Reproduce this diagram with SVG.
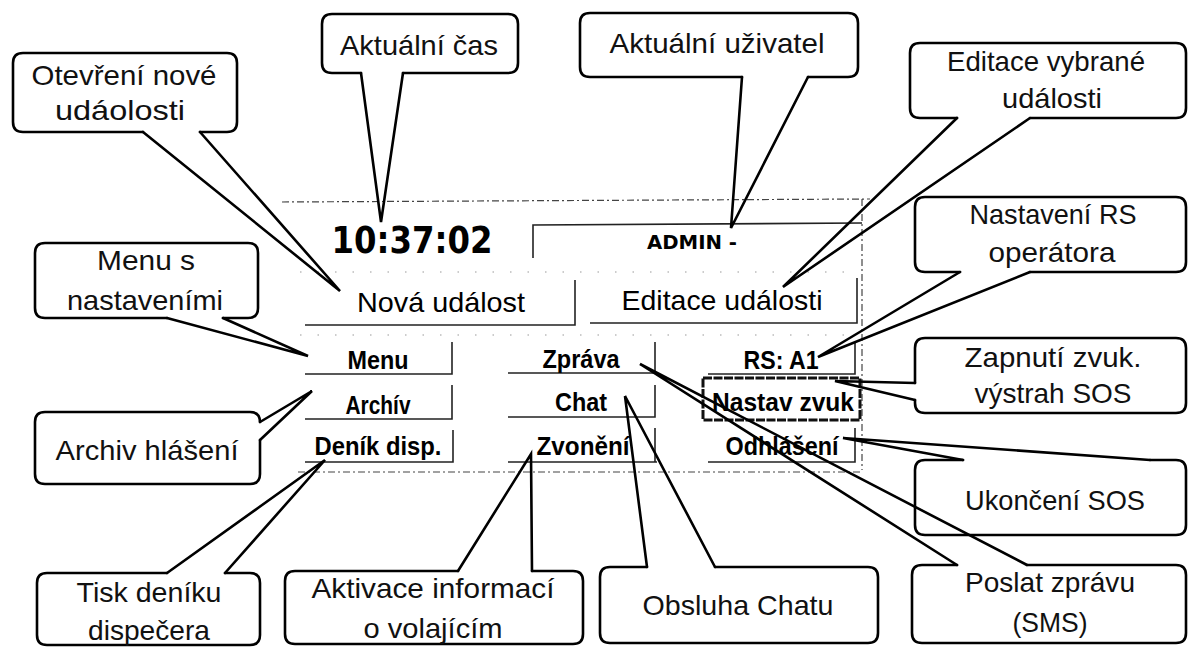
<svg xmlns="http://www.w3.org/2000/svg" width="1188" height="647" viewBox="0 0 1188 647">
<style>
.co{fill:none;stroke:#000;stroke-width:2.6;stroke-linejoin:round;stroke-linecap:round}
.wedge{fill:none;stroke:#000;stroke-width:2.6;stroke-linejoin:miter;stroke-linecap:round}
.ct{font-family:"Liberation Sans",Arial,sans-serif;font-size:28px;fill:#111;text-anchor:middle}
.bt{font-family:"Liberation Sans",Arial,sans-serif;font-weight:bold;font-size:25px;fill:#000;text-anchor:middle}
.big{font-family:"Liberation Sans",Arial,sans-serif;font-size:28px;fill:#000;text-anchor:middle}
.edge{stroke:#222;stroke-width:1.6;fill:none}
.dash{stroke:#444;stroke-width:1.2;fill:none;stroke-dasharray:7 3 2 3}
.dot{stroke:#999;stroke-width:1.2;fill:none;stroke-dasharray:1.5 16}
</style>
<rect width="1188" height="647" fill="#fff"/>

<g id="screen">
  <path class="dash" d="M282,202 L870,199"/>
  <path class="dash" d="M862,199 V470"/>
  <path class="dash" d="M298,472 H862"/>
  <path class="dot" d="M300,272 H860"/>
  <path class="dot" d="M300,335 H860"/>
</g>

<g id="clock">
  <text x="412" y="253" font-family="'DejaVu Sans',Verdana,sans-serif" font-weight="bold" font-size="38" text-anchor="middle" textLength="161" lengthAdjust="spacingAndGlyphs">10:37:02</text>
</g>

<g id="admin">
  <path class="edge" d="M533,258 V225 L862,223"/>
  <text x="692" y="249" font-family="'DejaVu Sans',Verdana,sans-serif" font-weight="bold" font-size="20" text-anchor="middle" textLength="90" lengthAdjust="spacingAndGlyphs">ADMIN -</text>
</g>

<g id="btn-nova">
  <path class="edge" d="M305,325 H575 V280"/>
  <text class="big" x="441" y="312" textLength="168" lengthAdjust="spacingAndGlyphs">Nová událost</text>
</g>
<g id="btn-editace">
  <path class="edge" d="M590,323 H857 V278"/>
  <text class="big" x="722" y="310" textLength="201" lengthAdjust="spacingAndGlyphs">Editace události</text>
</g>

<g id="btn-menu">
  <path class="edge" d="M305,374 H452 V342"/>
  <text class="bt" x="378" y="369" textLength="61" lengthAdjust="spacingAndGlyphs">Menu</text>
</g>
<g id="btn-zprava">
  <path class="edge" d="M508,373 H655 V342"/>
  <text class="bt" x="581" y="368" textLength="77" lengthAdjust="spacingAndGlyphs">Zpráva</text>
</g>
<g id="btn-rs">
  <path class="edge" d="M708,374 H855 V342"/>
  <text class="bt" x="781" y="369" textLength="75" lengthAdjust="spacingAndGlyphs">RS: A1</text>
</g>
<g id="btn-archiv">
  <path class="edge" d="M305,419 H452 V385"/>
  <text class="bt" x="378" y="414" textLength="65" lengthAdjust="spacingAndGlyphs">Archív</text>
</g>
<g id="btn-chat">
  <path class="edge" d="M508,417 H655 V385"/>
  <text class="bt" x="581" y="411" textLength="52" lengthAdjust="spacingAndGlyphs">Chat</text>
</g>
<g id="btn-nastav">
  <rect x="703" y="378" width="157" height="42" fill="none" stroke="#111" stroke-width="3" stroke-dasharray="9 1.5"/>
  <text class="bt" x="783" y="411" textLength="142" lengthAdjust="spacingAndGlyphs">Nastav zvuk</text>
</g>
<g id="btn-denik">
  <path class="edge" d="M305,462 H453 V430"/>
  <text class="bt" x="378" y="455" textLength="127" lengthAdjust="spacingAndGlyphs">Deník disp.</text>
</g>
<g id="btn-zvoneni">
  <path class="edge" d="M508,462 H657 M655,462 V428"/>
  <text class="bt" x="583" y="455" textLength="93" lengthAdjust="spacingAndGlyphs">Zvonění</text>
</g>
<g id="btn-odhlaseni">
  <path class="edge" d="M708,462 H855 V428"/>
  <text class="bt" x="782" y="455" textLength="113" lengthAdjust="spacingAndGlyphs">Odhlášení</text>
</g>

<g id="callout-cas">
  <path class="co" d="M403,73 H508 Q518,73 518,63 V24 Q518,14 508,14 H332 Q322,14 322,24 V63 Q322,73 332,73 H361"/>
  <text class="ct" x="419" y="55" textLength="158" lengthAdjust="spacingAndGlyphs">Aktuální čas</text>
</g>
<g id="callout-otevreni">
  <path class="co" d="M200,132 H227 Q237,132 237,122 V63 Q237,53 227,53 H23 Q13,53 13,63 V122 Q13,132 23,132 H143"/>
  <text class="ct" x="124" y="85" textLength="185" lengthAdjust="spacingAndGlyphs">Otevření nové</text>
  <text class="ct" x="120" y="120" textLength="130" lengthAdjust="spacingAndGlyphs">udáolosti</text>
</g>
<g id="callout-uzivatel">
  <path class="co" d="M808,77 H848 Q858,77 858,67 V23 Q858,13 848,13 H590 Q580,13 580,23 V67 Q580,77 590,77 H742"/>
  <text class="ct" x="717" y="53" textLength="215" lengthAdjust="spacingAndGlyphs">Aktuální uživatel</text>
</g>
<g id="callout-editace">
  <path class="co" d="M1030,118 H1176 Q1186,118 1186,108 V53 Q1186,43 1176,43 H920 Q910,43 910,53 V108 Q910,118 920,118 H957"/>
  <text class="ct" x="1046" y="71" textLength="198" lengthAdjust="spacingAndGlyphs">Editace vybrané</text>
  <text class="ct" x="1052" y="108" textLength="100" lengthAdjust="spacingAndGlyphs">události</text>
</g>
<g id="callout-rs">
  <path class="co" d="M1030,272 H1176 Q1186,272 1186,262 V207 Q1186,197 1176,197 H925 Q915,197 915,207 V262 Q915,272 925,272 H960"/>
  <text class="ct" x="1053" y="224" textLength="167" lengthAdjust="spacingAndGlyphs">Nastavení RS</text>
  <text class="ct" x="1052" y="262" textLength="127" lengthAdjust="spacingAndGlyphs">operátora</text>
</g>
<g id="callout-zvuk">
  <path class="co" d="M915,400 V403 Q915,413 925,413 H1176 Q1186,413 1186,403 V348 Q1186,338 1176,338 H925 Q915,338 915,348 V383"/>
  <text class="ct" x="1053" y="367" textLength="177" lengthAdjust="spacingAndGlyphs">Zapnutí zvuk.</text>
  <text class="ct" x="1053" y="403" textLength="157" lengthAdjust="spacingAndGlyphs">výstrah SOS</text>
</g>
<g id="callout-ukonceni">
  <path class="co" d="M963,460 H925 Q915,460 915,470 V525 Q915,535 925,535 H1176 Q1186,535 1186,525 V470 Q1186,460 1176,460 H1150"/>
  <text class="ct" x="1055" y="510" textLength="180" lengthAdjust="spacingAndGlyphs">Ukončení SOS</text>
</g>
<g id="callout-poslat">
  <path class="co" d="M957,565 H922 Q912,565 912,575 V633 Q912,643 922,643 H1176 Q1186,643 1186,633 V575 Q1186,565 1176,565 H1027"/>
  <text class="ct" x="1050" y="592" textLength="170" lengthAdjust="spacingAndGlyphs">Poslat zprávu</text>
  <text class="ct" x="1050" y="632" textLength="75" lengthAdjust="spacingAndGlyphs">(SMS)</text>
</g>
<g id="callout-chat">
  <path class="co" d="M647,567 H610 Q600,567 600,577 V633 Q600,643 610,643 H868 Q878,643 878,633 V577 Q878,567 868,567 H715"/>
  <text class="ct" x="738" y="615" textLength="191" lengthAdjust="spacingAndGlyphs">Obsluha Chatu</text>
</g>
<g id="callout-aktivace">
  <path class="co" d="M458,571 H295 Q285,571 285,581 V634 Q285,644 295,644 H573 Q583,644 583,634 V581 Q583,571 573,571 H532"/>
  <text class="ct" x="433" y="598" textLength="243" lengthAdjust="spacingAndGlyphs">Aktivace informací</text>
  <text class="ct" x="433" y="638" textLength="139" lengthAdjust="spacingAndGlyphs">o volajícím</text>
</g>
<g id="callout-tisk">
  <path class="co" d="M167,573 H47 Q37,573 37,583 V635 Q37,645 47,645 H250 Q260,645 260,635 V583 Q260,573 250,573 H225"/>
  <text class="ct" x="149" y="602" textLength="145" lengthAdjust="spacingAndGlyphs">Tisk deníku</text>
  <text class="ct" x="149" y="640" textLength="122" lengthAdjust="spacingAndGlyphs">dispečera</text>
</g>
<g id="callout-archiv">
  <path class="co" d="M260,440 V474 Q260,484 250,484 H45 Q35,484 35,474 V422 Q35,412 45,412 H250 Q260,412 260,422"/>
  <text class="ct" x="147" y="460" textLength="183" lengthAdjust="spacingAndGlyphs">Archiv hlášení</text>
</g>
<g id="callout-menu">
  <path class="co" d="M223,318 H248 Q258,318 258,308 V253 Q258,243 248,243 H45 Q35,243 35,253 V308 Q35,318 45,318 H167"/>
  <text class="ct" x="146" y="270" textLength="98" lengthAdjust="spacingAndGlyphs">Menu s</text>
  <text class="ct" x="145" y="310" textLength="156" lengthAdjust="spacingAndGlyphs">nastaveními</text>
</g>

<g id="connectors">
  <polyline class="wedge" points="361,73 381,222 403,73"/>
  <polyline class="wedge" points="143,132 340,291 200,132"/>
  <polyline class="wedge" points="742,77 731,228 808,77"/>
  <polyline class="wedge" points="957,118 783,287 1030,118"/>
  <polyline class="wedge" points="960,272 818,357 1030,272"/>
  <polyline class="wedge" points="915,383 835,381 915,400"/>
  <polyline class="wedge" points="963,460 843,438 1150,460"/>
  <polyline class="wedge" points="957,565 640,364 1027,565"/>
  <polyline class="wedge" points="647,567 625,396 715,567"/>
  <polyline class="wedge" points="458,571 531,454 532,571"/>
  <polyline class="wedge" points="167,573 325,460 225,573"/>
  <polyline class="wedge" points="260,422 312,391 260,440"/>
  <polyline class="wedge" points="167,318 308,356 223,318"/>
</g>
</svg>
